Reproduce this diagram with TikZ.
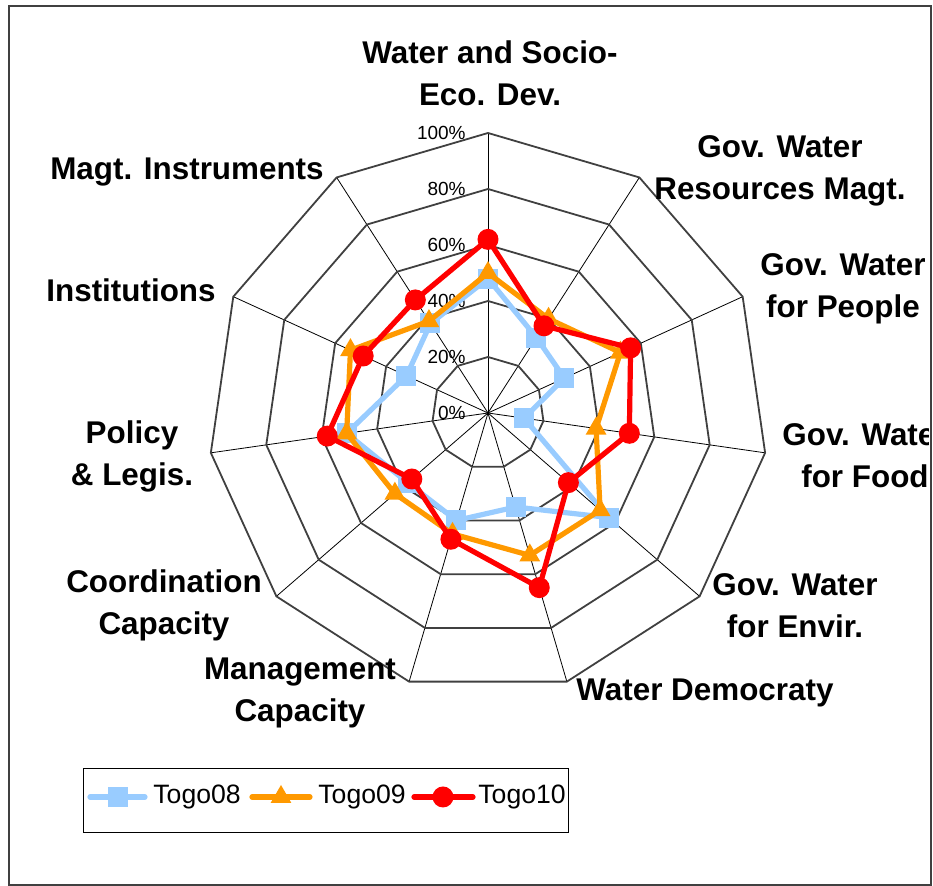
\documentclass[tikz,border=0pt]{standalone}
\usepackage{fontspec}
\setmainfont{Liberation Sans}
\usepackage{tikz}
\usetikzlibrary{shapes.geometric}
\usepackage{xcolor}
\definecolor{togoA}{HTML}{99CCFF}
\definecolor{togoB}{HTML}{FF9900}
\definecolor{togoC}{HTML}{FF0000}
\definecolor{webgray}{HTML}{404040}

\begin{document}
\begin{tikzpicture}[x=0.5pt,y=0.5pt,
  web/.style={draw=webgray,line width=0.9pt},
  spoke/.style={draw=black,line width=0.4pt},
  axislabel/.style={font=\bfseries\fontsize{15.7}{21}\selectfont,align=center,inner sep=0pt},
  tick/.style={font=\fontsize{9.5}{11}\selectfont,anchor=east,inner sep=0pt},
  legtext/.style={font=\fontsize{13.3}{15}\selectfont,anchor=west,inner sep=0pt},
  series/.style={line width=2.6pt,line join=round,line cap=round},
  mkA/.style={rectangle,fill=togoA,minimum size=10pt,inner sep=0pt},
  mkB/.style={regular polygon,regular polygon sides=3,fill=togoB,minimum size=12pt,inner sep=0pt},
  mkC/.style={circle,fill=togoC,minimum size=10.5pt,inner sep=0pt}]

  \useasboundingbox (-488,-473) rectangle (445,413);
  \draw[webgray,line width=1pt] (-478.5,-472) rectangle (443,407);

  % web
  \coordinate (O) at (0,0);
  \foreach \k in {0,...,10}
    \coordinate (v\k) at ({90-\k*360/11}:280);
  \foreach \k in {0,...,10}
    \draw[spoke] (O) -- (v\k);
  \foreach \r in {56,112,168,224,280}
    \draw[web] (90:\r) \foreach \k in {1,...,10} {-- ({90-\k*360/11}:\r)} -- cycle;

  % percent ticks
  \foreach \p in {0,20,40,60,80,100}
    \node[tick] (t\p) at (-22,{2.8*\p}) {\p\%};

  % data points
  \foreach \v [count=\k from 0] in {48,32,30,13,57,35,40,38,51,32,38}
    \coordinate (a\k) at ({90-\k*360/11}:{2.8*\v});
  \foreach \v [count=\k from 0] in {50,40,52,39,53,53,45,44,51,54,39}
    \coordinate (b\k) at ({90-\k*360/11}:{2.8*\v});
  \foreach \v [count=\k from 0] in {62,37,56,51,38,65,47,36,58,49,48}
    \coordinate (c\k) at ({90-\k*360/11}:{2.8*\v});

  \draw[series,togoA] (a0) \foreach \k in {1,...,10} {-- (a\k)} -- cycle;
  \foreach \k in {0,...,10} \node[mkA] (ma\k) at (a\k) {};
  \draw[series,togoB] (b0) \foreach \k in {1,...,10} {-- (b\k)} -- cycle;
  \foreach \k in {0,...,10} \node[mkB] (mb\k) at (b\k) {};
  \draw[series,togoC] (c0) \foreach \k in {1,...,10} {-- (c\k)} -- cycle;
  \foreach \k in {0,...,10} \node[mkC] (mc\k) at (c\k) {};

  % axis labels
  \begin{scope}
    \clip (-478,-471) rectangle (441,406);
    \node[axislabel] (L0) at (2,340) {Water and Socio-\\Eco. Dev.};
    \node[axislabel] (L1) at (292,242) {Gov. Water\\Resources Magt.};
    \node[axislabel] (L2) at (355,124) {Gov. Water\\for People};
    \node[axislabel] (L3) at (377,-43) {Gov. Water\\for Food};
    \node[axislabel] (L4) at (307,-193) {Gov. Water\\for Envir.};
    \node[axislabel] (L5) at (217,-280) {Water Democraty};
    \node[axislabel] (L6) at (-188,-280) {Management\\Capacity};
    \node[axislabel] (L7) at (-324,-192) {Coordination\\Capacity};
    \node[axislabel] (L8) at (-356,-43) {Policy\\\& Legis.};
    \node[axislabel] (L9) at (-357,123) {Institutions};
    \node[axislabel] (L10) at (-301,241) {Magt. Instruments};
  \end{scope}

  % legend
  \draw[black,line width=0.5pt] (-404,-356) rectangle (81,-420);
  \coordinate (la) at (-398,-384); \coordinate (lb) at (-343,-384);
  \draw[series,togoA] (la) -- (lb);
  \node[mkA] (lm1) at (-370,-384) {};
  \node[legtext] (lt1) at (-335,-384) {Togo08};
  \coordinate (lc) at (-236,-384); \coordinate (ld) at (-178,-384);
  \draw[series,togoB] (lc) -- (ld);
  \node[mkB] (lm2) at (-207,-384) {};
  \node[legtext] (lt2) at (-170,-384) {Togo09};
  \coordinate (le) at (-74,-384); \coordinate (lf) at (-15,-384);
  \draw[series,togoC] (le) -- (lf);
  \node[mkC] (lm3) at (-45,-384) {};
  \node[legtext] (lt3) at (-10,-384) {Togo10};
\end{tikzpicture}
\end{document}
